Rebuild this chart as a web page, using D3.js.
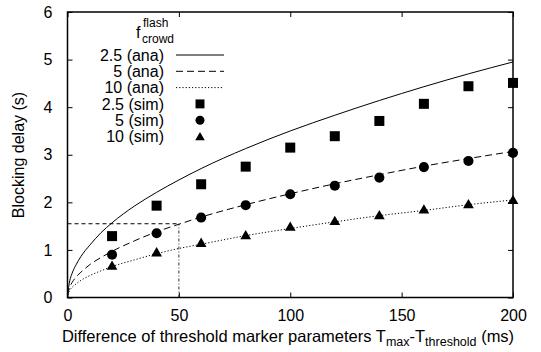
<!DOCTYPE html>
<html><head><meta charset="utf-8">
<script src="https://cdn.jsdelivr.net/npm/d3@7"></script>
<style>body{margin:0;background:#fff}text{font-family:"Liberation Sans",Arial,sans-serif;fill:#000}</style>
</head><body><svg id="c" width="541" height="352"></svg>
<script>
// analytic curves
const anaX = [0, 1, 2, 4, 6, 10, 15, 20, 30, 40, 50, 60, 80, 100, 120, 140, 160, 180, 200];
const ana25 = [0.05, 0.35, 0.5, 0.7, 0.86, 1.1, 1.36, 1.57, 1.92, 2.21, 2.47, 2.71, 3.13, 3.5, 3.83, 4.14, 4.43, 4.7, 4.95];
const ana5  = [0.05, 0.22, 0.31, 0.44, 0.53, 0.69, 0.84, 0.97, 1.19, 1.38, 1.54, 1.69, 1.95, 2.18, 2.39, 2.58, 2.76, 2.92, 3.07];
const ana10 = [0.05, 0.15, 0.21, 0.29, 0.36, 0.46, 0.56, 0.65, 0.79, 0.92, 1.03, 1.12, 1.30, 1.45, 1.59, 1.72, 1.83, 1.95, 2.05];
// simulation points
const simX = [20, 40, 60, 80, 100, 120, 140, 160, 180, 200];
const sim25 = [1.29, 1.93, 2.38, 2.75, 3.15, 3.39, 3.71, 4.07, 4.44, 4.51];
const sim5  = [0.9, 1.35, 1.68, 1.94, 2.17, 2.35, 2.52, 2.74, 2.87, 3.04];
const sim10 = [0.67, 0.95, 1.15, 1.31, 1.49, 1.61, 1.73, 1.85, 1.96, 2.05];
const xTicks = [0, 50, 100, 150, 200];
const yTicks = [0, 1, 2, 3, 4, 5, 6];
const refX = 50, refY = 1.55;
const legendLabels = ["2.5 (ana)", "5 (ana)", "10 (ana)", "2.5 (sim)", "5 (sim)", "10 (sim)"];

const svg = d3.select("#c");
const L = 67.5, R = 513, T = 12, B = 297.5;
const x = d3.scaleLinear().domain([0, 200]).range([L, R]);
const y = d3.scaleLinear().domain([0, 6]).range([B, T]);

svg.append("defs").append("clipPath").attr("id", "clip")
  .append("rect").attr("x", L).attr("y", T).attr("width", R - L).attr("height", B - T);

const fs = 16;
const fmt = d3.format("d");
// axes with inward ticks
const ax = (g, axis) => { g.call(axis); g.select(".domain").remove();
  g.selectAll("line").attr("stroke", "#000").attr("stroke-width", 1);
  g.selectAll("text").attr("font-size", fs).attr("font-family", "Liberation Sans, Arial, sans-serif").attr("fill", "#000"); };
svg.append("g").attr("transform", `translate(0,${B})`).call(g => ax(g, d3.axisBottom(x).tickValues(xTicks).tickFormat(fmt).tickSizeInner(-5).tickSizeOuter(0).tickPadding(12)));
svg.append("g").attr("transform", `translate(0,${T})`).call(g => ax(g, d3.axisTop(x).tickValues(xTicks).tickSizeInner(-5).tickSizeOuter(0).tickFormat("")));
svg.append("g").attr("transform", `translate(${L},0)`).call(g => ax(g, d3.axisLeft(y).tickValues(yTicks).tickFormat(fmt).tickSizeInner(-5).tickSizeOuter(0).tickPadding(15)));
svg.append("g").attr("transform", `translate(${R},0)`).call(g => ax(g, d3.axisRight(y).tickValues(yTicks).tickSizeInner(-5).tickSizeOuter(0).tickFormat("")));

const plot = svg.append("g").attr("clip-path", "url(#clip)");
// reference lines
plot.append("line").attr("x1", x(0)).attr("x2", x(refX)).attr("y1", y(refY)).attr("y2", y(refY))
  .attr("stroke", "#000").attr("stroke-width", 1).attr("stroke-dasharray", "4,3");
plot.append("line").attr("x1", x(refX)).attr("x2", x(refX)).attr("y1", y(0)).attr("y2", y(refY))
  .attr("stroke", "#333").attr("stroke-width", 1).attr("stroke-dasharray", "3,2,1,2");

const line = d3.line().x((d, i) => x(anaX[i])).y(d => y(d)).curve(d3.curveMonotoneX);
const styles = [null, "7,4", "1.2,2"];
[ana25, ana5, ana10].forEach((s, k) => {
  plot.append("path").attr("d", line(s)).attr("fill", "none").attr("stroke", "#000")
    .attr("stroke-width", 1).attr("stroke-dasharray", styles[k]);
});

const sym = [d3.symbolSquare, d3.symbolCircle, d3.symbolTriangle];
const sizes = [100, 80, 50];
[sim25, sim5, sim10].forEach((s, k) => {
  svg.append("g").selectAll("path").data(s).join("path")
    .attr("transform", (d, i) => `translate(${x(simX[i])},${y(d) + (k === 2 ? 1 : 0)})`)
    .attr("d", d3.symbol().type(sym[k]).size(sizes[k])).attr("fill", "#000");
});

// frame
svg.append("rect").attr("x", L).attr("y", T).attr("width", R - L).attr("height", B - T)
  .attr("fill", "none").attr("stroke", "#000").attr("stroke-width", 1.5);

// legend
const lg = svg.append("g");
const title = lg.append("text").attr("x", 136).attr("y", 38).attr("font-size", fs);
title.append("tspan").text("f");
title.append("tspan").attr("x", 143).attr("y", 27).attr("font-size", 12).text("flash");
title.append("tspan").attr("x", 142).attr("y", 43).attr("font-size", 12).text("crowd");
const rowY = [55, 71.3, 87.6, 103.9, 120.2, 136.5];
legendLabels.forEach((t, i) => {
  lg.append("text").attr("x", 164).attr("y", rowY[i]).attr("dy", "0.35em")
    .attr("text-anchor", "end").attr("font-size", fs).text(t);
  if (i < 3) {
    lg.append("line").attr("x1", 176).attr("x2", 224).attr("y1", rowY[i]).attr("y2", rowY[i])
      .attr("stroke", "#000").attr("stroke-width", 1).attr("stroke-dasharray", styles[i]);
  } else {
    lg.append("path").attr("transform", `translate(200,${rowY[i] + (i === 5 ? 1 : 0)})`)
      .attr("d", d3.symbol().type(sym[i - 3]).size(sizes[i - 3] * 0.8)).attr("fill", "#000");
  }
});

// axis titles
svg.append("text").attr("transform", `translate(24,155) rotate(-90)`).attr("text-anchor", "middle")
  .attr("font-size", fs).text("Blocking delay (s)");
const xl = svg.append("text").attr("x", 288).attr("y", 342).attr("text-anchor", "middle").attr("font-size", 16.5);
xl.append("tspan").text("Difference of threshold marker parameters T");
xl.append("tspan").attr("font-size", 12.5).attr("dy", 4).text("max");
xl.append("tspan").attr("dy", -4).text("-T");
xl.append("tspan").attr("font-size", 12.5).attr("dy", 4).text("threshold");
xl.append("tspan").attr("dy", -4).text(" (ms)");
</script></body></html>
